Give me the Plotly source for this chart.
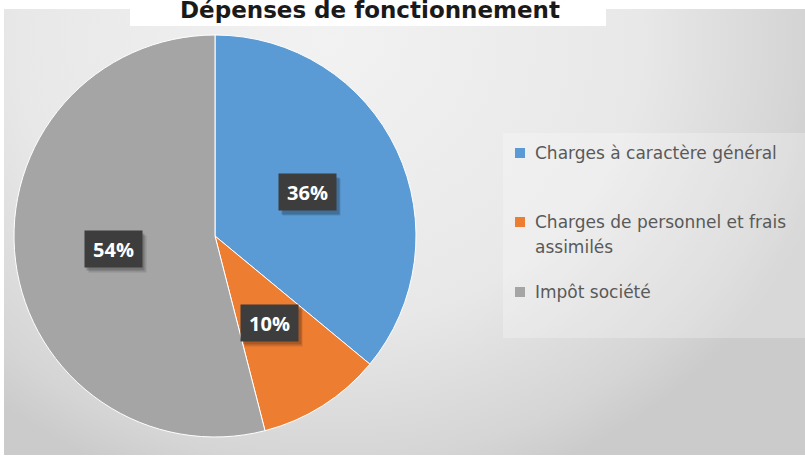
import math
import plotly.graph_objects as go

# data
labels = ["Charges à caractère général", "Charges de personnel et frais<br>assimilés", "Impôt société"]
values = [36, 10, 54]
colors = ["#5B9BD5", "#ED7D31", "#A5A5A5"]
title_text = "Dépenses de fonctionnement"

W, H = 805, 457
ML, MR, MT, MB = 4, 0, 9, 2
PW, PH = W - ML - MR, H - MT - MB


def xp(px):
    return (px - ML) / PW


def yp(py):
    return 1 - (py - MT) / PH


cx, cy, R = 215, 236, 201  # pie centre / radius in pixels

fig = go.Figure()

# grey radial background (office style chart area)
bgx, bgy, brx, bry = 330, 40, 520, 470
fig.add_trace(go.Scatter(
    x=[bgx - brx, bgx + brx, bgx + brx, bgx - brx, bgx - brx],
    y=[bgy - bry, bgy - bry, bgy + bry, bgy + bry, bgy - bry],
    mode="lines", line=dict(width=0), fill="toself",
    fillgradient=dict(type="radial",
                      colorscale=[[0, "#f2f2f2"], [0.6, "#e8e8e8"], [0.9, "#d5d5d5"], [1, "#cbcbcb"]]),
    hoverinfo="skip", showlegend=False))

fig.add_trace(go.Pie(
    labels=labels, values=values, sort=False, direction="clockwise", rotation=0,
    marker=dict(colors=colors, line=dict(color="white", width=1)),
    textinfo="none", hoverinfo="label+percent", showlegend=False,
    domain=dict(x=[xp(cx - R), xp(cx + R)], y=[yp(cy + R), yp(cy - R)])))

annotations = []
shapes = []

# data labels in dark boxes
total = sum(values)
cum = 0
for v in values:
    ang = 2 * math.pi * (cum + v / 2) / total
    cum += v
    lx = cx + 0.51 * R * math.sin(ang)
    ly = cy - 0.51 * R * math.cos(ang)
    txt = f"{round(100 * v / total)}%"
    for off, op in [(4, 0.12), (2.5, 0.18)]:
        annotations.append(dict(x=xp(lx + off), y=yp(ly + off + 1), xref="paper", yref="paper",
                                xanchor="center", yanchor="middle",
                                text=" ", showarrow=False, width=57, height=36, borderpad=0,
                                bgcolor=f"rgba(0,0,0,{op})"))
    annotations.append(dict(x=xp(lx), y=yp(ly), xref="paper", yref="paper", text=txt,
                            xanchor="center", yanchor="middle",
                            showarrow=False, width=57, height=36, borderpad=0, bgcolor="#3d3d3d",
                            font=dict(family="Open Sans", size=20, color="white", weight="bold")))

# legend
shapes.append(dict(type="rect", xref="paper", yref="paper", x0=xp(503), x1=xp(805), y0=yp(338), y1=yp(133),
                   fillcolor="rgba(255,255,255,0.25)", line=dict(width=0), layer="above"))
row_y = [153, 222, 292]
for lab, col, ry in zip(labels, colors, row_y):
    shapes.append(dict(type="rect", xref="paper", yref="paper", x0=xp(515), x1=xp(525),
                       y0=yp(ry + 5), y1=yp(ry - 5), fillcolor=col, line=dict(width=0), layer="above"))
    for k, line in enumerate(lab.split("<br>")):
        annotations.append(dict(x=xp(533), y=yp(ry + 25 * k), xref="paper", yref="paper", text=line,
                                showarrow=False, xanchor="left", yanchor="middle",
                                font=dict(family="DejaVu Sans", size=17, color="#595959")))

# title on white box
shapes.append(dict(type="rect", xref="paper", yref="paper", x0=xp(130), x1=xp(606), y0=yp(26), y1=yp(0),
                   fillcolor="white", line=dict(width=0), layer="above"))
annotations.append(dict(x=xp(370), y=yp(-4), xref="paper", yref="paper", text=title_text,
                        showarrow=False, xanchor="center", yanchor="top", borderpad=0,
                        font=dict(family="DejaVu Sans", size=23, color="#1a1a1a", weight="bold")))

fig.update_layout(
    width=W, height=H, margin=dict(l=ML, r=MR, t=MT, b=MB, autoexpand=False),
    paper_bgcolor="white", plot_bgcolor="white",
    xaxis=dict(range=[ML, W - MR], visible=False, fixedrange=True),
    yaxis=dict(range=[H - MB, MT], visible=False, fixedrange=True),
    showlegend=False, annotations=annotations, shapes=shapes)

fig.write_html("out.html", config=dict(displayModeBar=False),
               post_script="document.body.style.margin='0';")
